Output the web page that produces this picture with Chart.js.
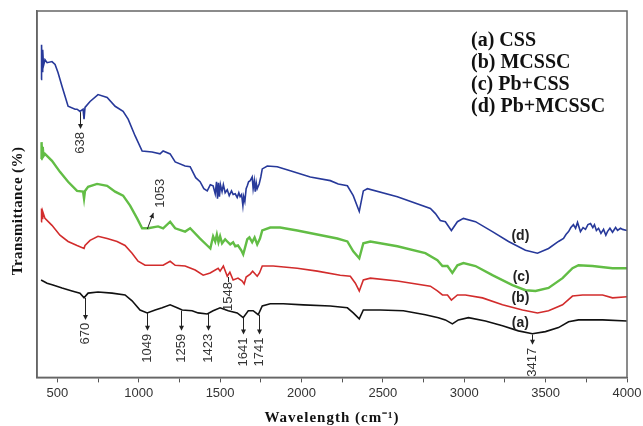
<!DOCTYPE html>
<html>
<head>
<meta charset="utf-8">
<script src="https://cdn.jsdelivr.net/npm/chart.js@4/dist/chart.umd.min.js"></script>
<style>
  html, body { margin: 0; padding: 0; background: #fff; }
  canvas { display: block; }
</style>
</head>
<body>
<canvas id="ftir" width="643" height="426"></canvas>
<script>
// FTIR spectra (wavenumber, cm-1) and transmittance (arbitrary %, curves offset)
const waveA = [400, 437, 473, 529, 590, 639, 664, 689, 750, 836, 916, 959, 1008, 1052, 1101, 1144, 1193, 1236, 1267, 1328, 1365, 1421, 1457, 1500, 1550, 1605, 1642, 1673, 1703, 1734, 1759, 1808, 1888, 2011, 2177, 2282, 2318, 2355, 2380, 2484, 2626, 2761, 2841, 2884, 2927, 2964, 3026, 3130, 3235, 3333, 3419, 3499, 3579, 3641, 3702, 3850, 4000];
const transA = [26.6, 25.7, 25.2, 24.4, 23.6, 23.0, 21.7, 23.0, 23.3, 23.0, 22.5, 20.9, 18.4, 17.6, 18.4, 19.0, 19.8, 19.0, 18.4, 18.2, 17.6, 17.3, 18.2, 19.0, 18.2, 17.6, 16.3, 18.2, 18.2, 17.1, 19.5, 20.1, 20.1, 19.8, 19.5, 19.0, 17.6, 16.0, 18.4, 18.4, 18.2, 17.1, 16.3, 15.7, 14.6, 15.7, 16.3, 15.4, 14.1, 12.7, 11.9, 12.5, 13.6, 15.2, 15.7, 15.7, 15.4];

const waveB = [400, 403, 406, 410, 424, 467, 516, 566, 621, 664, 670, 701, 750, 806, 867, 916, 959, 996, 1039, 1101, 1150, 1193, 1224, 1285, 1347, 1396, 1439, 1488, 1500, 1520, 1544, 1560, 1580, 1610, 1636, 1648, 1660, 1685, 1700, 1728, 1742, 1759, 1826, 1974, 2097, 2238, 2300, 2331, 2355, 2380, 2423, 2589, 2792, 2835, 2866, 2897, 2921, 2958, 3007, 3112, 3235, 3358, 3450, 3518, 3604, 3665, 3727, 3850, 3911, 4000];
const transB = [42.5, 46.1, 43.4, 45.3, 43.4, 41.5, 38.8, 37.1, 36.0, 35.2, 36.0, 37.4, 38.5, 37.9, 37.1, 36.0, 33.9, 31.7, 30.6, 30.6, 30.6, 31.7, 30.6, 30.4, 29.3, 27.9, 28.5, 29.8, 29.0, 30.4, 27.6, 28.7, 26.6, 27.1, 26.3, 25.5, 27.4, 28.2, 29.0, 27.6, 28.5, 30.4, 30.4, 29.8, 29.0, 27.9, 27.6, 25.7, 23.6, 26.6, 27.1, 26.3, 24.9, 23.6, 22.5, 22.5, 21.1, 22.5, 22.5, 21.7, 19.8, 18.4, 17.6, 18.2, 19.8, 22.2, 22.5, 22.5, 21.7, 22.0];

const waveC = [400, 403, 406, 410, 415, 424, 467, 516, 566, 621, 658, 664, 670, 689, 744, 806, 855, 904, 947, 990, 1021, 1058, 1119, 1150, 1193, 1224, 1285, 1316, 1377, 1421, 1440, 1457, 1470, 1480, 1490, 1500, 1512, 1531, 1544, 1562, 1580, 1593, 1610, 1630, 1642, 1652, 1667, 1680, 1697, 1712, 1728, 1745, 1759, 1808, 1869, 1974, 2097, 2220, 2282, 2318, 2355, 2380, 2423, 2589, 2761, 2835, 2866, 2897, 2927, 2958, 2995, 3069, 3173, 3296, 3376, 3438, 3518, 3604, 3665, 3702, 3788, 3911, 4000];
const transC = [59.6, 64.2, 61.0, 62.9, 60.4, 61.0, 59.1, 56.1, 53.4, 50.9, 50.7, 48.8, 50.9, 52.0, 52.8, 52.3, 50.7, 49.6, 46.9, 43.4, 40.7, 40.7, 41.2, 40.7, 42.5, 40.7, 39.8, 40.7, 37.9, 36.0, 35.2, 38.5, 37.1, 39.0, 36.9, 38.5, 36.6, 37.7, 37.1, 36.3, 36.9, 35.8, 36.0, 34.7, 33.6, 35.2, 37.7, 38.2, 36.9, 38.2, 36.3, 37.9, 40.1, 40.9, 40.9, 40.1, 39.0, 37.9, 37.1, 34.4, 32.5, 36.6, 37.1, 35.8, 33.9, 32.0, 30.4, 30.4, 28.5, 30.6, 31.2, 30.4, 27.9, 25.2, 23.8, 23.6, 24.4, 27.1, 29.8, 30.6, 30.4, 29.8, 29.8];

const waveD = [400, 403, 406, 410, 415, 424, 437, 467, 486, 504, 529, 566, 609, 621, 639, 658, 664, 670, 701, 750, 806, 855, 904, 935, 978, 1021, 1082, 1131, 1150, 1193, 1224, 1285, 1316, 1350, 1377, 1400, 1421, 1440, 1457, 1470, 1478, 1484, 1490, 1496, 1502, 1512, 1520, 1531, 1544, 1556, 1570, 1580, 1593, 1605, 1615, 1623, 1632, 1640, 1645, 1652, 1660, 1667, 1675, 1685, 1697, 1703, 1710, 1716, 1722, 1728, 1740, 1750, 1759, 1790, 1851, 1931, 2054, 2177, 2226, 2282, 2318, 2355, 2380, 2405, 2589, 2792, 2823, 2853, 2884, 2921, 2958, 2995, 3069, 3173, 3272, 3376, 3450, 3518, 3579, 3610, 3625, 3641, 3655, 3671, 3684, 3696, 3714, 3730, 3745, 3760, 3776, 3790, 3800, 3812, 3825, 3840, 3856, 3870, 3880, 3895, 3911, 3930, 3942, 3960, 3973, 4000];
const transD = [81.3, 90.8, 83.5, 89.4, 85.1, 86.7, 85.9, 86.2, 85.4, 83.2, 79.4, 74.0, 73.2, 73.2, 72.6, 73.2, 70.5, 73.7, 75.3, 77.2, 76.4, 74.0, 72.6, 70.5, 65.9, 61.8, 61.5, 61.0, 61.8, 61.0, 58.8, 57.7, 57.5, 54.5, 53.4, 51.5, 50.9, 52.6, 52.3, 50.1, 53.4, 48.8, 53.1, 49.3, 52.6, 50.7, 52.6, 50.4, 51.2, 49.6, 50.9, 49.9, 50.1, 49.1, 50.4, 49.3, 49.9, 46.9, 49.3, 48.0, 51.5, 52.3, 53.4, 53.7, 54.7, 51.5, 53.7, 50.7, 53.1, 51.5, 52.8, 54.7, 56.9, 57.7, 57.5, 56.4, 54.7, 53.7, 52.8, 52.3, 49.6, 45.3, 50.9, 51.5, 49.3, 46.1, 44.7, 42.8, 42.5, 40.1, 42.5, 43.4, 42.5, 39.8, 37.1, 34.7, 33.9, 35.2, 37.1, 37.9, 39.0, 39.8, 40.9, 41.7, 40.7, 42.3, 39.8, 40.9, 40.4, 41.7, 42.0, 40.9, 41.7, 40.1, 40.7, 39.3, 40.4, 38.8, 39.8, 40.7, 39.6, 40.9, 40.1, 40.7, 40.4, 40.1];

const legendLines = ['(a) CSS', '(b) MCSSC', '(c) Pb+CSS', '(d) Pb+MCSSC'];
const curveTags = ['(a)', '(b)', '(c)', '(d)'];
const tagWave = [3345, 3345, 3350, 3345];
const tagTrans = [14.9, 21.7, 27.4, 38.5];

// band labels with a downward arrow: arrow starts on the curve and stops at the tip value
const bandLabels = ['638', '670', '1049', '1259', '1423', '1641', '1741', '3417'];
const bandFrom = [72.4, 21.7, 17.6, 18.2, 17.3, 16.3, 17.1, 11.7];
const bandTo = [67.8, 15.7, 12.7, 12.7, 12.7, 11.7, 11.7, 8.9];

const xTicks = [500, 750, 1000, 1250, 1500, 1750, 2000, 2250, 2500, 2750, 3000, 3250, 3500, 3750, 4000];

function pairs(xs, ys) {
  return xs.map((v, i) => ({ x: v, y: ys[i] }));
}

function arrowHead(ctx, x, y, ang) {
  ctx.save();
  ctx.translate(x, y);
  ctx.rotate(ang);
  ctx.beginPath();
  ctx.moveTo(0, 0);
  ctx.lineTo(-5, -2.5);
  ctx.lineTo(-5, 2.5);
  ctx.closePath();
  ctx.fill();
  ctx.restore();
}

function vText(ctx, text, x, y, align) {
  ctx.save();
  ctx.translate(x, y);
  ctx.rotate(-Math.PI / 2);
  ctx.textAlign = align;
  ctx.textBaseline = 'middle';
  ctx.fillText(text, 0, 0);
  ctx.restore();
}

const overlay = {
  id: 'overlay',
  afterDatasetsDraw(chart) {
    const { ctx, chartArea: a, scales: { x, y } } = chart;
    ctx.save();

    // frame round the plot
    ctx.strokeStyle = '#666';
    ctx.lineWidth = 1.5;
    ctx.strokeRect(a.left, a.top, a.right - a.left, a.bottom - a.top);

    // band markers
    ctx.strokeStyle = '#222';
    ctx.fillStyle = '#222';
    ctx.lineWidth = 1;
    ctx.font = '13px "Liberation Sans", Arial, sans-serif';
    bandLabels.forEach((lab, i) => {
      const px = Math.round(x.getPixelForValue(+lab)) + 0.5;
      const y0 = y.getPixelForValue(bandFrom[i]);
      const y1 = y.getPixelForValue(bandTo[i]);
      ctx.beginPath();
      ctx.moveTo(px, y0);
      ctx.lineTo(px, y1 - 3);
      ctx.stroke();
      arrowHead(ctx, px, y1, Math.PI / 2);
      ctx.fillStyle = '#333';
      vText(ctx, lab, px, y1 + 3, 'right');
      ctx.fillStyle = '#222';
    });

    // 1053 on the green curve, arrow pointing up to the right
    const ax0 = x.getPixelForValue(1053), ay0 = y.getPixelForValue(40.5);
    const ax1 = x.getPixelForValue(1090), ay1 = y.getPixelForValue(44.9);
    ctx.beginPath();
    ctx.moveTo(ax0, ay0);
    ctx.lineTo(ax1, ay1);
    ctx.stroke();
    arrowHead(ctx, ax1, ay1, Math.atan2(ay1 - ay0, ax1 - ax0));
    ctx.fillStyle = '#333';
    vText(ctx, '1053', x.getPixelForValue(1135), y.getPixelForValue(46.3), 'left');

    // 1548 hangs under the red curve
    const bx = Math.round(x.getPixelForValue(1548)) + 0.5;
    ctx.beginPath();
    ctx.moveTo(bx, y.getPixelForValue(27.4));
    ctx.lineTo(bx, y.getPixelForValue(26.0));
    ctx.stroke();
    vText(ctx, '1548', bx, y.getPixelForValue(26.0), 'right');

    // curve tags
    ctx.fillStyle = '#222';
    ctx.font = 'bold 14px "Liberation Sans", Arial, sans-serif';
    ctx.textAlign = 'center';
    ctx.textBaseline = 'middle';
    curveTags.forEach((t, i) => {
      ctx.fillText(t, x.getPixelForValue(tagWave[i]), y.getPixelForValue(tagTrans[i]));
    });

    // legend block
    ctx.fillStyle = '#111';
    ctx.font = 'bold 20px "Liberation Serif", "Times New Roman", serif';
    ctx.textAlign = 'left';
    legendLines.forEach((t, i) => {
      ctx.fillText(t, 471, 41 + i * 22);
    });

    // axis titles
    ctx.font = 'bold 15px "Liberation Serif", "Times New Roman", serif';
    ctx.letterSpacing = '1px';
    ctx.textAlign = 'center';
    ctx.fillText('Wavelength (cm\u207B\u00B9)', (a.left + a.right) / 2, 418);
    ctx.letterSpacing = '0.4px';
    vText(ctx, 'Transmittance (%)', 18, 211, 'center');
    ctx.restore();
  }
};

new Chart(document.getElementById('ftir'), {
  type: 'line',
  data: {
    datasets: [
      { label: '(a) CSS', data: pairs(waveA, transA), borderColor: '#111111', borderWidth: 1.6 },
      { label: '(b) MCSSC', data: pairs(waveB, transB), borderColor: '#d22c2c', borderWidth: 1.6 },
      { label: '(c) Pb+CSS', data: pairs(waveC, transC), borderColor: '#62bd45', borderWidth: 2.4 },
      { label: '(d) Pb+MCSSC', data: pairs(waveD, transD), borderColor: '#27399a', borderWidth: 1.6 }
    ]
  },
  options: {
    responsive: false,
    animation: false,
    devicePixelRatio: 1,
    layout: { padding: { left: 37, top: 11, right: 16, bottom: 22 } },
    elements: { point: { radius: 0 }, line: { tension: 0 } },
    plugins: { legend: { display: false }, tooltip: { enabled: false } },
    scales: {
      x: {
        type: 'linear',
        min: 375,
        max: 4000,
        afterBuildTicks: (s) => { s.ticks = xTicks.map(v => ({ value: v })); },
        // the "4000" label may overhang into the right margin
        afterFit: (s) => { s.paddingLeft = 0; s.paddingRight = 0; },
        ticks: {
          autoSkip: false,
          maxRotation: 0,
          padding: 3,
          color: '#333',
          font: { family: '"Liberation Sans", Arial, sans-serif', size: 13 },
          callback: (v) => (v % 500 === 0 ? String(v) : '')
        },
        grid: { drawOnChartArea: false, tickLength: 5, color: '#555', lineWidth: 1 },
        border: { display: true, color: '#666', width: 1.5 }
      },
      y: {
        min: 0,
        max: 100,
        ticks: { display: false },
        grid: { display: false, drawTicks: false },
        border: { display: true, color: '#666', width: 1.5 }
      }
    }
  },
  plugins: [overlay]
});
</script>
</body>
</html>
